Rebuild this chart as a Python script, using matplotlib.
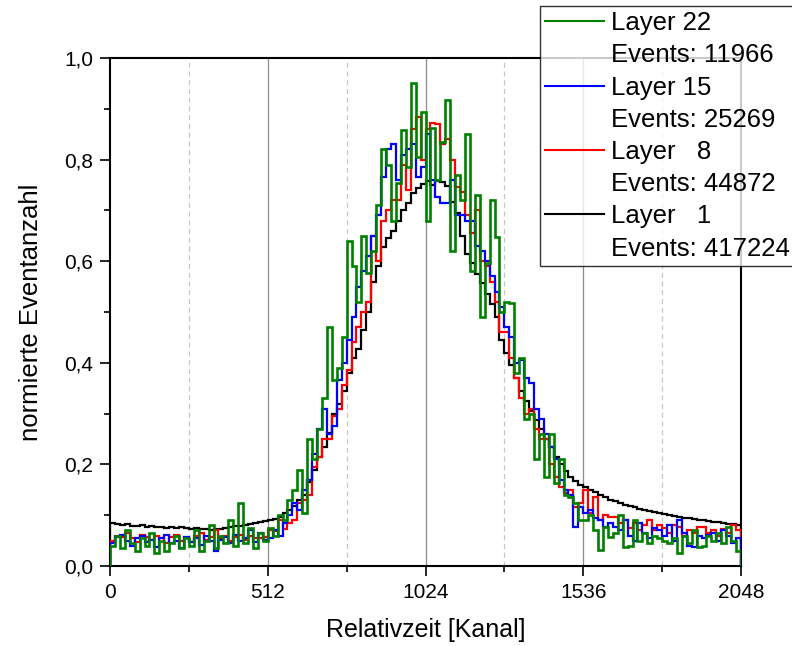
import numpy as np
import matplotlib
matplotlib.use('Agg')
import matplotlib.pyplot as plt
from matplotlib.lines import Line2D
from matplotlib.ticker import MultipleLocator, FuncFormatter

plt.rcParams['font.family'] = ['Liberation Sans', 'DejaVu Sans']

# 128 bins, 16 channels each
bin_width = 16
n_channels = 2048

layer1 = [0.084, 0.082, 0.080, 0.083, 0.079, 0.078, 0.080, 0.077,
          0.078, 0.076, 0.077, 0.075, 0.077, 0.074, 0.076, 0.075,
          0.073, 0.074, 0.072, 0.073, 0.071, 0.072, 0.073, 0.074,
          0.076, 0.078, 0.079, 0.081, 0.083, 0.085, 0.086, 0.088,
          0.090, 0.093, 0.097, 0.104, 0.110, 0.118, 0.130, 0.140,
          0.165, 0.190, 0.215, 0.235, 0.262, 0.300, 0.318, 0.345,
          0.380, 0.410, 0.428, 0.465, 0.500, 0.560, 0.590, 0.628,
          0.645, 0.660, 0.680, 0.700, 0.715, 0.735, 0.745, 0.752,
          0.757, 0.750, 0.758, 0.755, 0.748, 0.717, 0.695, 0.650,
          0.615, 0.596, 0.575, 0.557, 0.535, 0.515, 0.490, 0.445,
          0.420, 0.395, 0.370, 0.345, 0.325, 0.305, 0.287, 0.270,
          0.250, 0.234, 0.215, 0.200, 0.188, 0.175, 0.168, 0.160,
          0.155, 0.150, 0.145, 0.140, 0.136, 0.130, 0.128, 0.124,
          0.121, 0.118, 0.116, 0.113, 0.110, 0.108, 0.106, 0.104,
          0.103, 0.101, 0.099, 0.097, 0.095, 0.094, 0.093, 0.091,
          0.090, 0.088, 0.087, 0.086, 0.085, 0.083, 0.082, 0.080]

layer8 = [0.050, 0.060, 0.058, 0.065, 0.055, 0.048, 0.062, 0.057,
          0.052, 0.060, 0.055, 0.045, 0.058, 0.062, 0.050, 0.056,
          0.048, 0.060, 0.065, 0.052, 0.058, 0.070, 0.055, 0.060,
          0.050, 0.058, 0.062, 0.052, 0.060, 0.055, 0.055, 0.058,
          0.070, 0.068, 0.090, 0.072, 0.085, 0.090, 0.124, 0.130,
          0.140, 0.195, 0.215, 0.250, 0.250, 0.295, 0.310, 0.356,
          0.386, 0.440, 0.470, 0.500, 0.520, 0.650, 0.600, 0.680,
          0.700, 0.720, 0.720, 0.790, 0.740, 0.860, 0.884, 0.800,
          0.860, 0.873, 0.870, 0.830, 0.840, 0.800, 0.746, 0.736,
          0.690, 0.655, 0.700, 0.600, 0.590, 0.560, 0.520, 0.460,
          0.460, 0.410, 0.370, 0.330, 0.300, 0.310, 0.270, 0.250,
          0.250, 0.200, 0.175, 0.155, 0.144, 0.150, 0.116, 0.124,
          0.150, 0.105, 0.136, 0.090, 0.100, 0.097, 0.097, 0.085,
          0.090, 0.075, 0.085, 0.070, 0.080, 0.090, 0.070, 0.080,
          0.075, 0.065, 0.080, 0.077, 0.060, 0.070, 0.065, 0.077,
          0.077, 0.065, 0.070, 0.060, 0.072, 0.065, 0.080, 0.070]

layer15 = [0.045, 0.058, 0.062, 0.050, 0.040, 0.055, 0.060, 0.048,
           0.052, 0.038, 0.055, 0.062, 0.045, 0.050, 0.035, 0.058,
           0.048, 0.055, 0.042, 0.060, 0.050, 0.030, 0.052, 0.058,
           0.045, 0.062, 0.050, 0.055, 0.070, 0.048, 0.065, 0.052,
           0.055, 0.070, 0.060, 0.085, 0.100, 0.124, 0.110, 0.150,
           0.170, 0.220, 0.270, 0.310, 0.260, 0.275, 0.366, 0.400,
           0.445, 0.490, 0.550, 0.580, 0.610, 0.650, 0.690, 0.766,
           0.820, 0.830, 0.760, 0.810, 0.820, 0.830, 0.766, 0.785,
           0.850, 0.760, 0.726, 0.714, 0.714, 0.760, 0.690, 0.690,
           0.680, 0.680, 0.630, 0.620, 0.600, 0.570, 0.540, 0.510,
           0.470, 0.450, 0.400, 0.405, 0.370, 0.360, 0.310, 0.290,
           0.260, 0.234, 0.210, 0.170, 0.150, 0.140, 0.077, 0.116,
           0.104, 0.110, 0.095, 0.090, 0.077, 0.085, 0.077, 0.070,
           0.090, 0.060, 0.050, 0.085, 0.065, 0.055, 0.075, 0.070,
           0.060, 0.080, 0.050, 0.090, 0.065, 0.040, 0.037, 0.060,
           0.055, 0.062, 0.065, 0.050, 0.070, 0.060, 0.045, 0.055]

layer22 = [0.040, 0.060, 0.035, 0.070, 0.045, 0.030, 0.055, 0.040,
           0.065, 0.025, 0.050, 0.030, 0.045, 0.060, 0.035, 0.055,
           0.040, 0.070, 0.030, 0.050, 0.080, 0.035, 0.060, 0.045,
           0.090, 0.040, 0.124, 0.045, 0.075, 0.035, 0.065, 0.050,
           0.075, 0.060, 0.100, 0.090, 0.130, 0.150, 0.190, 0.104,
           0.250, 0.210, 0.270, 0.330, 0.470, 0.366, 0.390, 0.450,
           0.640, 0.590, 0.520, 0.650, 0.577, 0.620, 0.710, 0.820,
           0.790, 0.680, 0.754, 0.858, 0.785, 0.950, 0.805, 0.894,
           0.680, 0.862, 0.760, 0.835, 0.917, 0.620, 0.770, 0.720,
           0.850, 0.580, 0.730, 0.490, 0.596, 0.720, 0.648, 0.500,
           0.520, 0.517, 0.380, 0.410, 0.290, 0.300, 0.210, 0.260,
           0.175, 0.260, 0.163, 0.210, 0.140, 0.136, 0.124, 0.090,
           0.090, 0.100, 0.070, 0.031, 0.077, 0.057, 0.065, 0.100,
           0.037, 0.040, 0.090, 0.050, 0.065, 0.045, 0.060, 0.055,
           0.050, 0.045, 0.055, 0.026, 0.060, 0.045, 0.070, 0.037,
           0.040, 0.060, 0.050, 0.065, 0.045, 0.077, 0.050, 0.030]

labels = ['Layer 22', 'Events: 11966', 'Layer 15', 'Events: 25269',
          'Layer   8', 'Events: 44872', 'Layer   1', 'Events: 417224']

edges = np.arange(0, n_channels + bin_width, bin_width)

fig = plt.figure(figsize=(7.92, 6.46), dpi=100)
ax = fig.add_axes([0.1389, 0.1238, 0.7967, 0.7864])

# grid: solid at majors, dashed at minors (vertical only)
for xg in [512, 1024, 1536]:
    ax.axvline(xg, color='#8c8c8c', lw=0.9, zorder=0)
for xg in [256, 768, 1280, 1792]:
    ax.axvline(xg, color='#c8c8c8', lw=0.9, ls=(0, (4, 3)), zorder=0)

ax.stairs(layer1, edges, color='black', lw=1.6, zorder=2)
ax.stairs(layer8, edges, color='#ff0000', lw=1.6, zorder=3)
ax.stairs(layer15, edges, color='#0000ff', lw=1.6, zorder=4)
ax.stairs(layer22, edges, color='#008000', lw=1.9, zorder=5)

ax.set_xlim(0, 2048)
ax.set_ylim(0, 1.0)
ax.xaxis.set_major_locator(MultipleLocator(512))
ax.xaxis.set_minor_locator(MultipleLocator(256))
ax.yaxis.set_major_locator(MultipleLocator(0.2))
ax.yaxis.set_minor_locator(MultipleLocator(0.1))
ax.yaxis.set_major_formatter(FuncFormatter(lambda v, p: f'{v:.1f}'.replace('.', ',')))
ax.tick_params(which='major', direction='out', length=7, width=1.2, labelsize=15, pad=5)
ax.tick_params(which='minor', direction='out', length=4.5, width=1.2)
ax.tick_params(top=False, right=False, which='both')
for s in ax.spines.values():
    s.set_linewidth(1.5)

ax.set_xlabel('Relativzeit [Kanal]', fontsize=18, labelpad=12)
ax.set_ylabel('normierte Eventanzahl', fontsize=18.5, labelpad=15)

colors = ['#008000', 'none', '#0000ff', 'none', '#ff0000', 'none', 'black', 'none']
handles = [Line2D([], [], color=c, lw=1.5) for c in colors]
leg = fig.legend(handles, labels, loc='upper left',
                 bbox_to_anchor=(540 / 792, 1 - 6 / 646),
                 fontsize=18.5, frameon=True, fancybox=False, borderaxespad=0,
                 handlelength=2.3, handletextpad=0.25, labelspacing=0.32,
                 borderpad=0.2)
leg.get_frame().set_edgecolor('black')
leg.get_frame().set_linewidth(1.0)
leg.set_zorder(10)

fig.savefig('out.png', dpi=100)
